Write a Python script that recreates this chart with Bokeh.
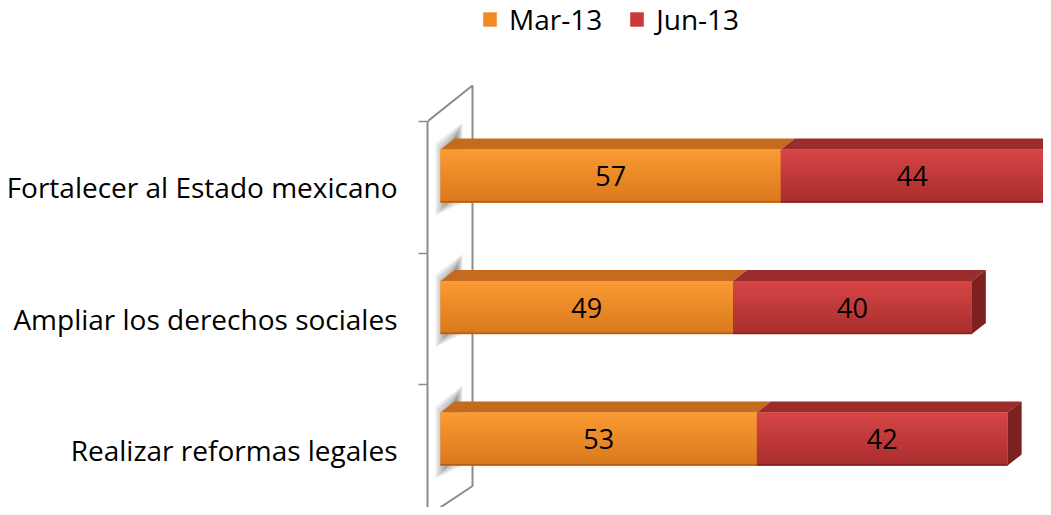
from bokeh.plotting import figure
from bokeh.models import Range1d, FixedTicker, Legend, LegendItem, ColumnDataSource
from bokeh.core.properties import value
from bokeh.embed import file_html
from bokeh.resources import INLINE

# ---------------- data ----------------
categories = ["Fortalecer al Estado mexicano", "Ampliar los derechos sociales", "Realizar reformas legales"]
mar13 = [57, 49, 53]
jun13 = [44, 40, 42]
series_names = ["Mar-13", "Jun-13"]

# ---------------- styling / geometry ----------------
FONT = "Open Sans"
FS = "27px"
FS_AX = "28px"
W, H = 1043, 507
FRAME_L = 427
FW = W - FRAME_L
PXU = 5.97                 # pixels per value unit
BAND = 131.5               # pixels per category band
x0 = -13 / PXU
x1 = x0 + FW / PXU
y0 = (515.5 - H) / BAND
y1 = 3 + 121 / BAND
ux = 1 / PXU               # data units per pixel (x)
uy = 1 / BAND              # data units per pixel (y)
DX, DY = 14 * ux, 11 * uy  # 3D depth offset

n = len(categories)
centers = [n - 0.5 - i for i in range(n)]

p = figure(width=W, height=H, output_backend="svg", toolbar_location=None,
           x_range=Range1d(x0, x1), y_range=Range1d(y0, y1),
           x_axis_location=None, min_border_left=FRAME_L, min_border_right=0,
           min_border_top=0, min_border_bottom=0)
p.outline_line_color = None
p.xgrid.visible = False
p.ygrid.visible = False
p.background_fill_color = "white"
p.border_fill_color = "white"

ax = p.yaxis[0]
ax.ticker = FixedTicker(ticks=centers, minor_ticks=[float(i) for i in range(n + 1)])
ax.major_label_overrides = {c: lab for c, lab in zip(centers, categories)}
ax.major_tick_out = 0
ax.major_tick_in = 0
ax.minor_tick_out = 9
ax.minor_tick_in = 0
ax.minor_tick_line_color = "#8C8C8C"
ax.minor_tick_line_width = 1.5
ax.axis_line_color = "#8C8C8C"
ax.axis_line_width = 2
ax.bounds = (0, n)
ax.major_label_text_font = FONT
ax.major_label_text_font_size = FS_AX
ax.major_label_text_color = "black"
ax.major_label_standoff = 21

# wall (back side of the 3D axis plane)
xb = x0 + 45 * ux
p.line([x0, xb, xb, x0], [n, n + 36 * uy, 30 * uy, 0], line_color="#8C8C8C", line_width=2)


def hexrgb(h):
    h = h.lstrip("#")
    return tuple(int(h[i:i + 2], 16) for i in (0, 2, 4))


def interp(c1, c2, t):
    a, b = hexrgb(c1), hexrgb(c2)
    return "#%02x%02x%02x" % tuple(int(round(a[i] + (b[i] - a[i]) * t)) for i in range(3))


styles = {
    "Mar-13": dict(base="#F08A25", top="#FA9A32", bottom="#D9791D", face="#C46B1E", edge="#B25E18"),
    "Jun-13": dict(base="#C93A3A", top="#D54545", bottom="#A92E2E", face="#9C2B2B", edge="#8A2222"),
}

fronts_top = [c + 0.5 - 28 * uy for c in centers]
fronts_bot = [c + 0.5 - 81 * uy for c in centers]

# blurred shadows on the wall
for layer in range(7):
    ins = layer * 2.0
    xs, ys = [], []
    for t, b in zip(fronts_top, fronts_bot):
        xs.append([(-5 + ins) * ux, (-5 + ins) * ux, (22 - ins * 0.5) * ux, (22 - ins * 0.5) * ux])
        ys.append([b - (13 - ins) * uy, t + (6 - ins) * uy, t + (27 - ins) * uy, b + ins * uy])
    p.patches(xs, ys, fill_color="#303030", fill_alpha=0.09, line_color=None)

legend_items = []
series = [mar13, jun13]
lefts = [0] * n
for si, (name, vals) in enumerate(zip(series_names, series)):
    st = styles[name]
    L = list(lefts)
    R = [l + v for l, v in zip(L, vals)]
    src = ColumnDataSource(dict(left=L, right=R, top=fronts_top, bottom=fronts_bot,
                                y=[(t + b) / 2 for t, b in zip(fronts_top, fronts_bot)],
                                h=[t - b for t, b in zip(fronts_top, fronts_bot)],
                                xm=[(l + r) / 2 for l, r in zip(L, R)],
                                lab=[str(v) for v in vals]))
    # top face
    p.patches([[l, r, r + DX, l + DX] for l, r in zip(L, R)],
              [[t, t, t + DY, t + DY] for t in fronts_top],
              fill_color=st["face"], line_color=None)
    # right end face (last series only)
    if si == len(series) - 1:
        p.patches([[r, r, r + DX, r + DX] for r in R],
                  [[b, t, t + DY, b + DY] for t, b in zip(fronts_top, fronts_bot)],
                  fill_color="#7E2020", line_color=None)
    # front base
    base = p.hbar(y="y", left="left", right="right", height="h", source=src,
                  fill_color=st["base"], line_color=None)
    legend_items.append(LegendItem(label=name, renderers=[base]))
    # gradient strips
    K = 14
    for k in range(K):
        ft = [t - (t - b) * k / K for t, b in zip(fronts_top, fronts_bot)]
        fb = [t - (t - b) * (k + 1) / K - 0.3 * uy for t, b in zip(fronts_top, fronts_bot)]
        p.quad(left=L, right=R, top=ft, bottom=fb,
               fill_color=interp(st["top"], st["bottom"], k / (K - 1)), line_color=None)
    # bottom edge
    p.quad(left=L, right=R, top=[b + 1.5 * uy for b in fronts_bot], bottom=fronts_bot,
           fill_color=st["edge"], line_color=None)
    # value labels
    p.text(x="xm", y="y", text="lab", source=src, text_font=value(FONT), text_font_size=FS,
           text_align="center", text_baseline="middle", text_color="black")
    lefts = R

legend = Legend(items=legend_items, orientation="horizontal", location=(54, 469),
                label_text_font=FONT, label_text_font_size=FS_AX, label_text_color="black",
                glyph_width=17, glyph_height=18, label_standoff=11, spacing=26,
                padding=0, margin=0, border_line_color=None, background_fill_alpha=0)
p.add_layout(legend)

open("out.html", "w").write(file_html(p, INLINE))
